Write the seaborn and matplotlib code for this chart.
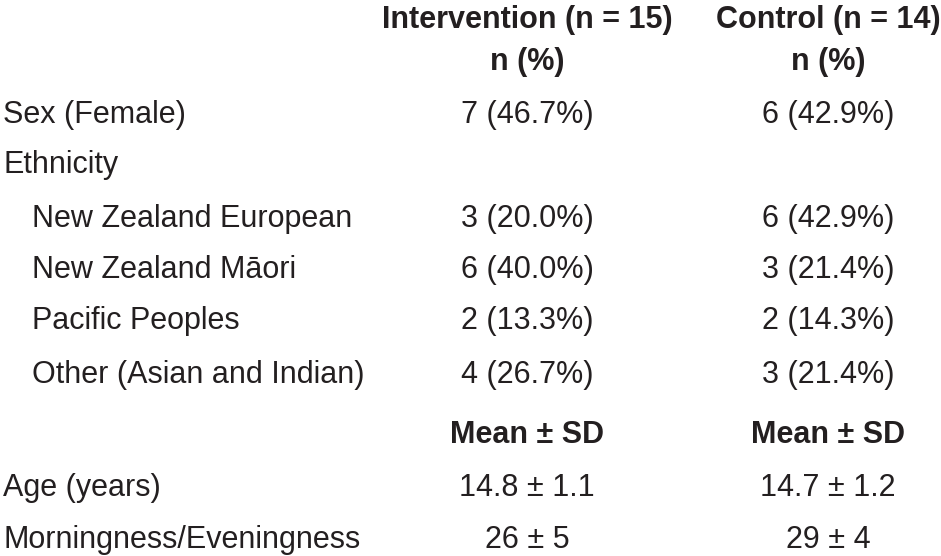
"""
Baseline characteristics table, drawn as text on a blank seaborn axis.
"""

import matplotlib.pyplot as plt
from matplotlib import font_manager
import seaborn as sns

# Table content
group_headers = ["Intervention (n = 15)", "Control (n = 14)"]
count_labels = ["Sex (Female)", "Ethnicity", "New Zealand European",
                "New Zealand Māori", "Pacific Peoples", "Other (Asian and Indian)"]
indented = [False, False, True, True, True, True]
intervention_n = [7, None, 3, 6, 2, 4]
intervention_pct = [46.7, None, 20.0, 40.0, 13.3, 26.7]
control_n = [6, None, 6, 3, 2, 3]
control_pct = [42.9, None, 42.9, 21.4, 14.3, 21.4]

mean_labels = ["Age (years)", "Morningness/Eveningness"]
intervention_mean = ["14.8", "26"]
intervention_sd = ["1.1", "5"]
control_mean = ["14.7", "29"]
control_sd = ["1.2", "4"]

# Layout (pixel coordinates, baselines)
W, H = 941, 556
col_x = [527, 828]
label_x, indent_x = 3, 32
header_y = [28, 70]
count_y = [123, 173, 227, 278, 329, 383]
mean_head_y = 443
mean_y = [496, 548]
FS = 22

sns.set_theme(style="white")
installed = {f.name for f in font_manager.fontManager.ttflist}
family = "Liberation Sans Narrow" if "Liberation Sans Narrow" in installed else "Liberation Sans"
plt.rcParams["font.family"] = [family, "DejaVu Sans"]

fig = plt.figure(figsize=(W / 100, H / 100), dpi=100)
ax = fig.add_axes([0, 0, 1, 1])
ax.set_xlim(0, W)
ax.set_ylim(H, 0)
ax.axis("off")

txt = dict(fontsize=FS, color="#231f20", va="baseline")

for x, head in zip(col_x, group_headers):
    ax.text(x, header_y[0], head, ha="center", fontweight="bold", **txt)
    ax.text(x, header_y[1], "n (%)", ha="center", fontweight="bold", **txt)
    ax.text(x, mean_head_y, "Mean ± SD", ha="center", fontweight="bold", **txt)

for i, label in enumerate(count_labels):
    y = count_y[i]
    ax.text(indent_x if indented[i] else label_x, y, label, ha="left", **txt)
    if intervention_n[i] is not None:
        ax.text(col_x[0], y, f"{intervention_n[i]} ({intervention_pct[i]:.1f}%)", ha="center", **txt)
        ax.text(col_x[1], y, f"{control_n[i]} ({control_pct[i]:.1f}%)", ha="center", **txt)

for i, label in enumerate(mean_labels):
    y = mean_y[i]
    ax.text(label_x, y, label, ha="left", **txt)
    ax.text(col_x[0], y, f"{intervention_mean[i]} ± {intervention_sd[i]}", ha="center", **txt)
    ax.text(col_x[1], y, f"{control_mean[i]} ± {control_sd[i]}", ha="center", **txt)

fig.savefig("out.png", dpi=100, facecolor="white")
